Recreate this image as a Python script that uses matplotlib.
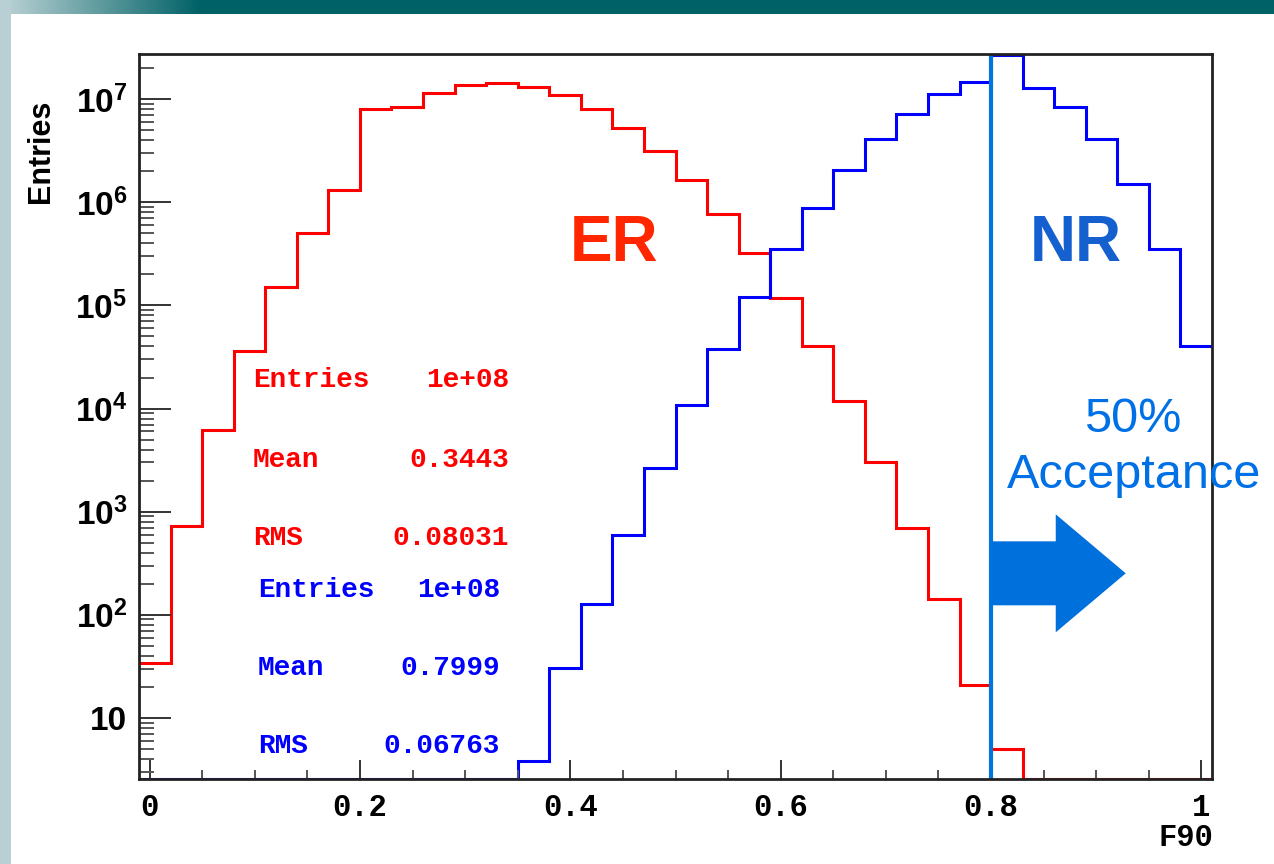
import numpy as np
import matplotlib
matplotlib.use('Agg')
import matplotlib.pyplot as plt
from matplotlib.patches import Rectangle
from matplotlib.ticker import FixedLocator, LogLocator, NullFormatter


# F90 histogram, 34 bins from -0.01 to 1.01 (bin width 0.03)
bin_low = -0.01
bin_width = 0.03
n_bins = 34

# electron recoils (red)
er_counts = [34, 727, 6200, 36000, 152000, 501000, 1.32e6, 8.05e6, 8.36e6, 1.14e7,
             1.37e7, 1.44e7, 1.33e7, 1.11e7, 8.0e6, 5.27e6, 3.13e6, 1.64e6, 7.7e5, 3.2e5,
             1.19e5, 4.05e4, 1.19e4, 3030, 695, 142, 21, 5, 0, 0, 0, 0, 0, 0]

# nuclear recoils (blue)
nr_counts = [0, 0, 0, 0, 0, 0, 0, 0, 0, 0, 0, 0,
             3.8, 30.5, 128, 596, 2660, 1.09e4, 3.8e4, 1.22e5, 3.5e5, 8.9e5,
             2.05e6, 4.1e6, 7.26e6, 1.12e7, 1.47e7, 2.7e7, 1.3e7, 8.5e6, 4.15e6,
             1.5e6, 3.56e5, 4.05e4]

er_stats = [("Entries", "1e+08"), ("Mean", "0.3443"), ("RMS", "0.08031")]
nr_stats = [("Entries", "1e+08"), ("Mean", "0.7999"), ("RMS", "0.06763")]

cut_value = 0.8
y_tick_values = [10, 1e2, 1e3, 1e4, 1e5, 1e6, 1e7]
y_tick_labels = ['10', '$10^{2}$', '$10^{3}$', '$10^{4}$', '$10^{5}$', '$10^{6}$', '$10^{7}$']
x_tick_values = [0, 0.2, 0.4, 0.6, 0.8, 1.0]
x_tick_labels = ['0', '0.2', '0.4', '0.6', '0.8', '1']

ymin, ymax = 2.55, 2.75e7

plt.rcParams['mathtext.fontset'] = 'custom'
plt.rcParams['mathtext.rm'] = 'Liberation Sans:bold'
plt.rcParams['mathtext.it'] = 'Liberation Sans:bold'
plt.rcParams['mathtext.bf'] = 'Liberation Sans:bold'
plt.rcParams['mathtext.sf'] = 'Liberation Sans:bold'

W, H = 1274, 864
figure = plt.figure(figsize=(W / 100, H / 100), dpi=100, facecolor='white')

# slide decoration: left strip and top banner with gradient
figure.patches.append(Rectangle((0, 0), 11 / W, 1, transform=figure.transFigure,
                                facecolor='#b8d0d3', edgecolor='none', zorder=0))
banner = figure.add_axes([0, 1 - 14 / H, 1, 14 / H])
light = np.array([190, 212, 214]) / 255
dark = np.array([0, 97, 103]) / 255
frac = np.clip(np.arange(W) / 200.0, 0, 1)[:, None]
grad = (light * (1 - frac) + dark * frac)[None, :, :]
banner.imshow(grad, aspect='auto', extent=(0, 1, 0, 1))
banner.set_axis_off()

axis = figure.add_axes([139 / W, (H - 779) / H, (1212 - 139) / W, (779 - 54) / H])
edges = bin_low + bin_width * np.arange(n_bins + 1)

axis.stairs(np.maximum(er_counts, ymin), edges, color='red', lw=2.2, baseline=None)
axis.stairs(np.maximum(nr_counts, ymin), edges, color='blue', lw=2.2, baseline=None)
axis.axvline(cut_value, color='#0077dd', lw=3)

axis.set_yscale('log')
axis.set_xlim(edges[0], edges[-1])
axis.set_ylim(ymin, ymax)

axis.yaxis.set_major_locator(FixedLocator(y_tick_values))
axis.yaxis.set_minor_locator(LogLocator(base=10, subs=np.arange(2, 10), numticks=20))
axis.yaxis.set_minor_formatter(NullFormatter())
axis.set_yticks(y_tick_values, y_tick_labels)
axis.set_xticks(x_tick_values, x_tick_labels)
axis.set_xticks(np.arange(0, 1.01, 0.05), minor=True)

for lab in axis.get_yticklabels():
    lab.set_fontfamily('Liberation Sans')
    lab.set_fontweight('bold')
    lab.set_fontsize(24)
for lab in axis.get_xticklabels():
    lab.set_fontfamily('Liberation Mono')
    lab.set_fontweight('bold')
    lab.set_fontsize(22)

axis.tick_params(axis='y', which='major', direction='in', length=23, width=1.4, pad=8.5,
                 right=False, color='#333333')
axis.tick_params(axis='y', which='minor', direction='in', length=11, width=1.4,
                 right=False, color='#555555')
axis.tick_params(axis='x', which='major', direction='in', length=14, width=1.4, pad=10,
                 top=False, color='#333333')
axis.tick_params(axis='x', which='minor', direction='in', length=6.5, width=1.4,
                 top=False, color='#555555')
for sp in axis.spines.values():
    sp.set_linewidth(2)
    sp.set_color('#222222')

# stats boxes text
er_rows_y = [0.5407, 0.4303, 0.3228]
nr_rows_y = [0.2510, 0.1434, 0.0359]
for (name, val), yy in zip(er_stats, er_rows_y):
    axis.text(0.1062, yy, name, transform=axis.transAxes, color='red', fontsize=20,
              family='Liberation Mono', fontweight='bold', ha='left', va='baseline')
    axis.text(0.3448, yy, val, transform=axis.transAxes, color='red', fontsize=20,
              family='Liberation Mono', fontweight='bold', ha='right', va='baseline')
for (name, val), yy in zip(nr_stats, nr_rows_y):
    axis.text(0.1109, yy, name, transform=axis.transAxes, color='blue', fontsize=20,
              family='Liberation Mono', fontweight='bold', ha='left', va='baseline')
    axis.text(0.3364, yy, val, transform=axis.transAxes, color='blue', fontsize=20,
              family='Liberation Mono', fontweight='bold', ha='right', va='baseline')

axis.text(0.4431, 0.7150, 'ER', transform=axis.transAxes, color='#ff2600', fontsize=46,
          family='Liberation Sans', fontweight='bold', ha='center', va='baseline')
axis.text(0.8733, 0.7150, 'NR', transform=axis.transAxes, color='#1560cf', fontsize=46,
          family='Liberation Sans', fontweight='bold', ha='center', va='baseline')
axis.text(0.9260, 0.479, '50%', transform=axis.transAxes, color='#0070e6', fontsize=35,
          family='Liberation Sans', ha='center', va='baseline')
axis.text(0.9273, 0.401, 'Acceptance', transform=axis.transAxes, color='#0070e6', fontsize=35,
          family='Liberation Sans', ha='center', va='baseline')

# acceptance arrow
axis.annotate('', xy=(0.928, 0.2837), xytext=(cut_value, 0.2837),
              xycoords=('data', 'axes fraction'), textcoords=('data', 'axes fraction'),
              arrowprops=dict(arrowstyle='simple,head_length=0.70,head_width=1.18,tail_width=0.64',
                              mutation_scale=72, color='#0070dd', lw=0,
                              shrinkA=0, shrinkB=0))

figure.text(40.7 / W, 1 - 151.7 / H, 'Entries', rotation=90, ha='center', va='center',
            fontsize=22, family='Liberation Sans', fontweight='bold')
figure.text(1213 / W, 1 - 838 / H, 'F90', ha='right', va='center', fontsize=22,
            family='Liberation Mono', fontweight='bold')

figure.savefig('out.png', dpi=100, facecolor='white')
